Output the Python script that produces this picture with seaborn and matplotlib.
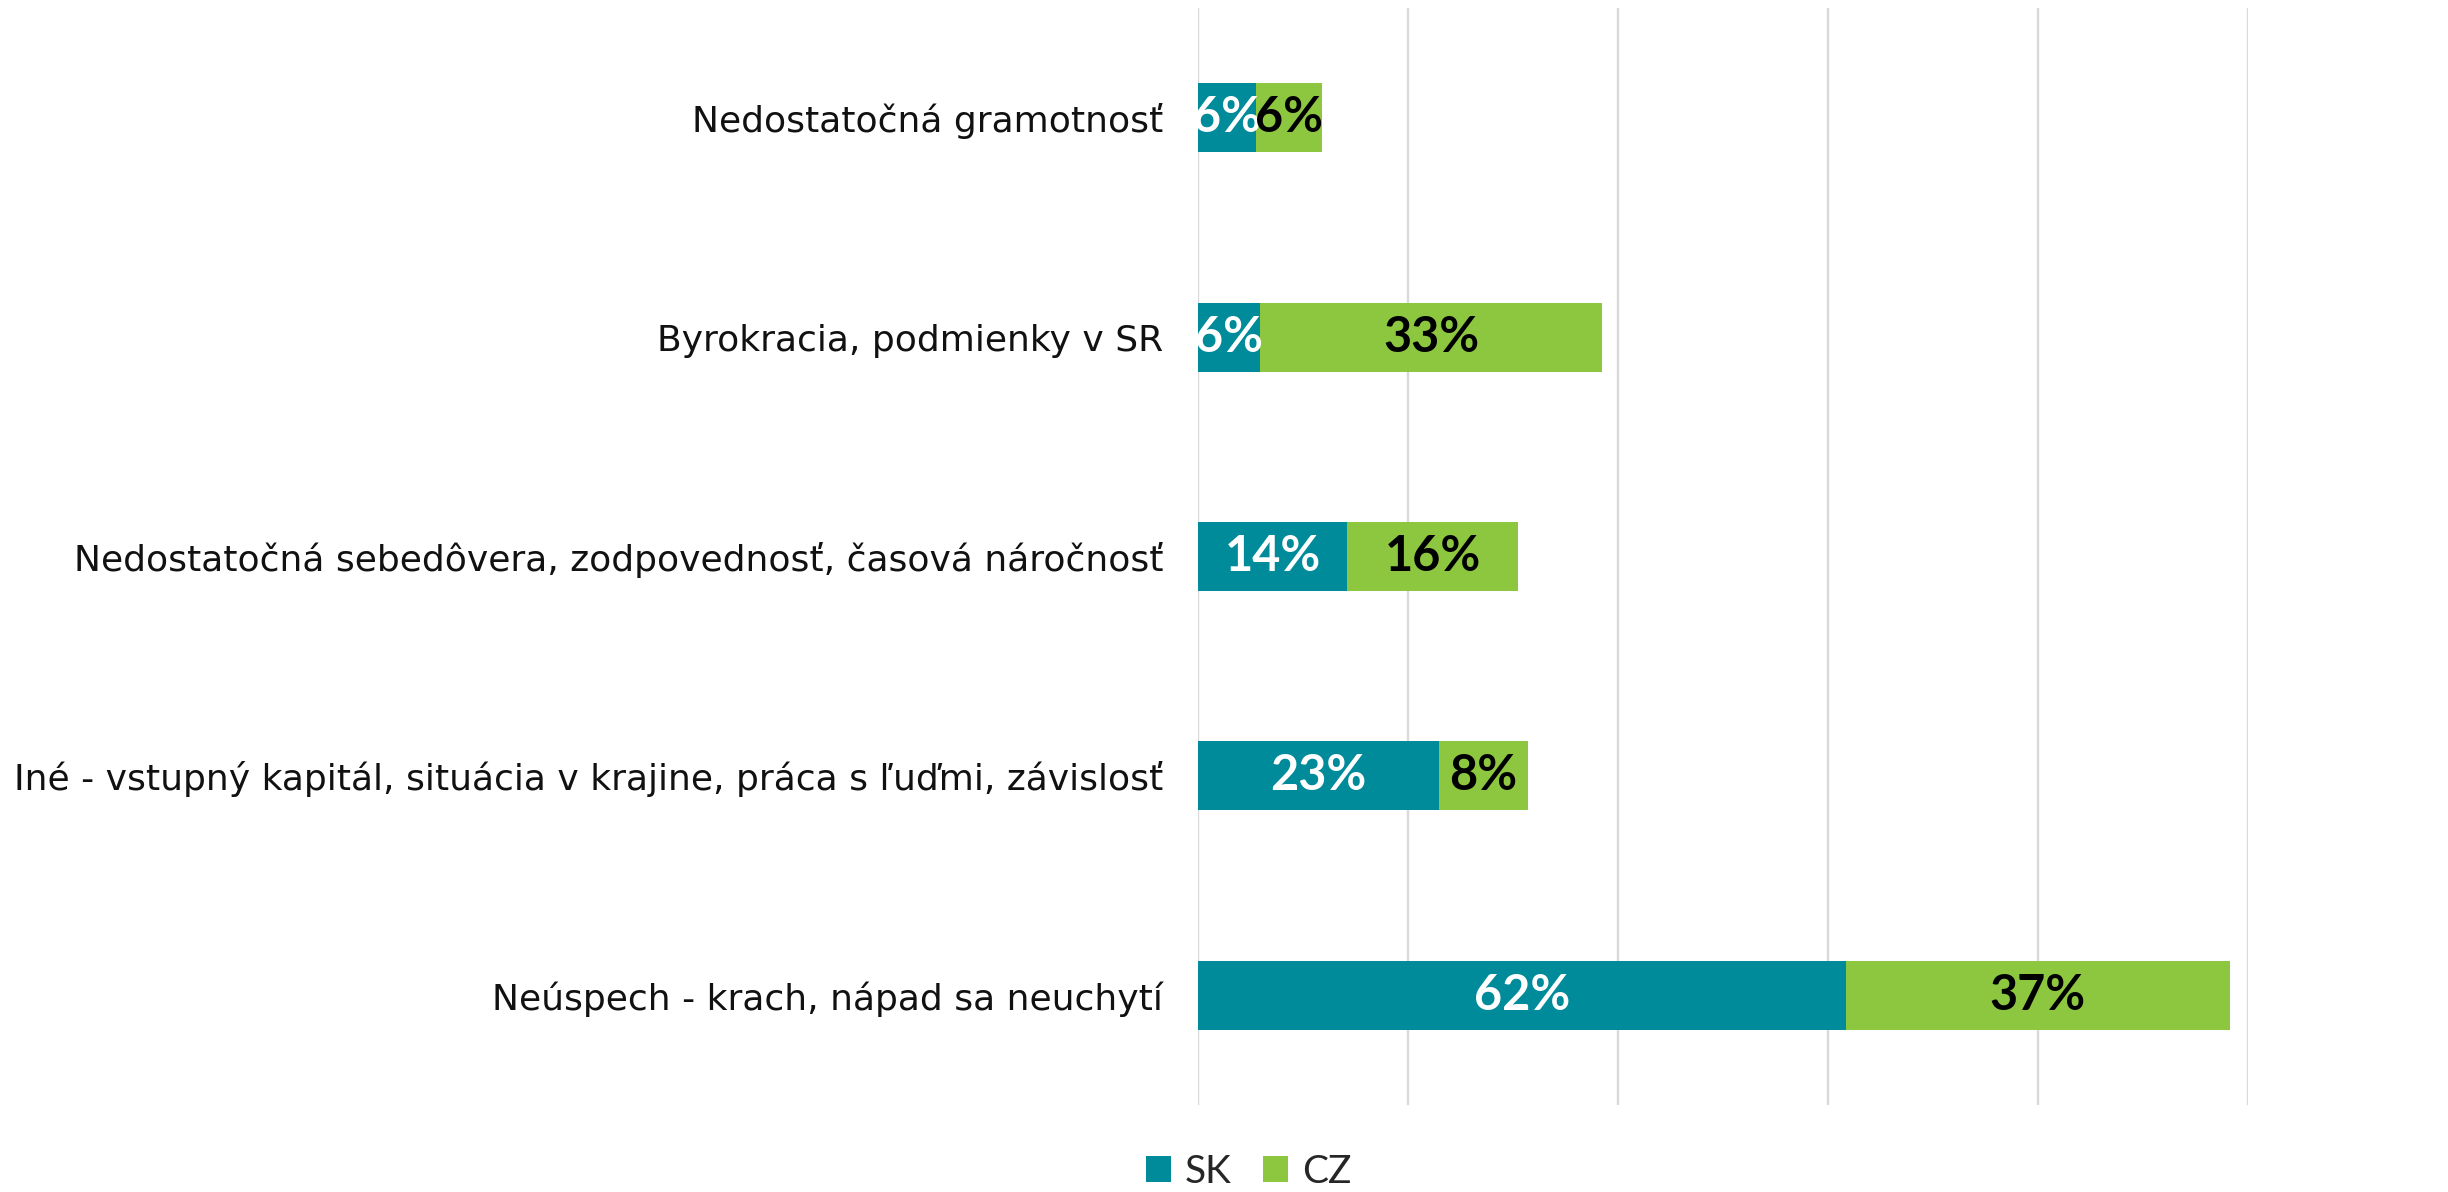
import matplotlib
matplotlib.use("Agg")
from matplotlib import pyplot as plt
from matplotlib.patches import Patch
import seaborn as sns
import pandas as pd

# data (percent)
categories = [
    "Nedostatočná gramotnosť",
    "Byrokracia, podmienky v SR",
    "Nedostatočná sebedôvera, zodpovednosť, časová náročnosť",
    "Iné - vstupný kapitál, situácia v krajine, práca s ľuďmi, závislosť",
    "Neúspech - krach, nápad sa neuchytí",
]
sk_values = [5.5, 5.9, 14.2, 23.0, 61.7]
cz_values = [6.3, 32.6, 16.3, 8.4, 36.6]
series_names = ["SK", "CZ"]

SK_COLOR = "#008B9A"
CZ_COLOR = "#8DC63F"

df = pd.DataFrame({"category": categories, "SK": sk_values, "CZ": cz_values})
df["total"] = df["SK"] + df["CZ"]

sns.set_theme(style="white")
plt.rcParams["font.family"] = ["Lato", "DejaVu Sans"]

fig = plt.figure(figsize=(24.48, 11.92), dpi=100)
ax = fig.add_axes([0.4894, 0.073, 0.4287, 0.9203])

# stacked: total (CZ on top of SK) first, then SK over it
sns.barplot(data=df, x="total", y="category", color=CZ_COLOR, width=0.315,
            orient="h", ax=ax, saturation=1, edgecolor="none")
sns.barplot(data=df, x="SK", y="category", color=SK_COLOR, width=0.315,
            orient="h", ax=ax, saturation=1, edgecolor="none")

ax.set_xlim(0, 100)
ax.set_ylim(4.5, -0.5)
ax.set_xticks([0, 20, 40, 60, 80, 100])
ax.set_xticklabels([])
ax.set_xlabel("")
ax.set_ylabel("")
ax.set_axisbelow(True)
ax.xaxis.grid(True, color="#D9D9D9", linewidth=1.7)
ax.yaxis.grid(False)
for s in ax.spines.values():
    s.set_visible(False)
ax.tick_params(axis="both", length=0)
ax.tick_params(axis="y", pad=25)
# category labels: wider face, closer to the original geometric font
for lab in ax.get_yticklabels():
    lab.set_fontfamily(["DejaVu Sans"])
    lab.set_fontsize(26)
    lab.set_color("#111111")

# value labels in the middle of each segment
for i, (sk, cz) in enumerate(zip(sk_values, cz_values)):
    ax.text(sk / 2, i, f"{int(sk + 0.5)}%", ha="center", va="center",
            color="white", fontsize=35, fontweight="bold")
    ax.text(sk + cz / 2, i, f"{int(cz + 0.5)}%", ha="center", va="center",
            color="black", fontsize=35, fontweight="bold")

handles = [Patch(facecolor=SK_COLOR, edgecolor="none"),
           Patch(facecolor=CZ_COLOR, edgecolor="none")]
fig.legend(handles, series_names, loc="center", bbox_to_anchor=(0.51, 0.017),
           ncol=2, frameon=False, fontsize=28, handlelength=0.65,
           handleheight=0.65, handletextpad=0.35, columnspacing=0.8)

fig.savefig("out.png", dpi=100)
